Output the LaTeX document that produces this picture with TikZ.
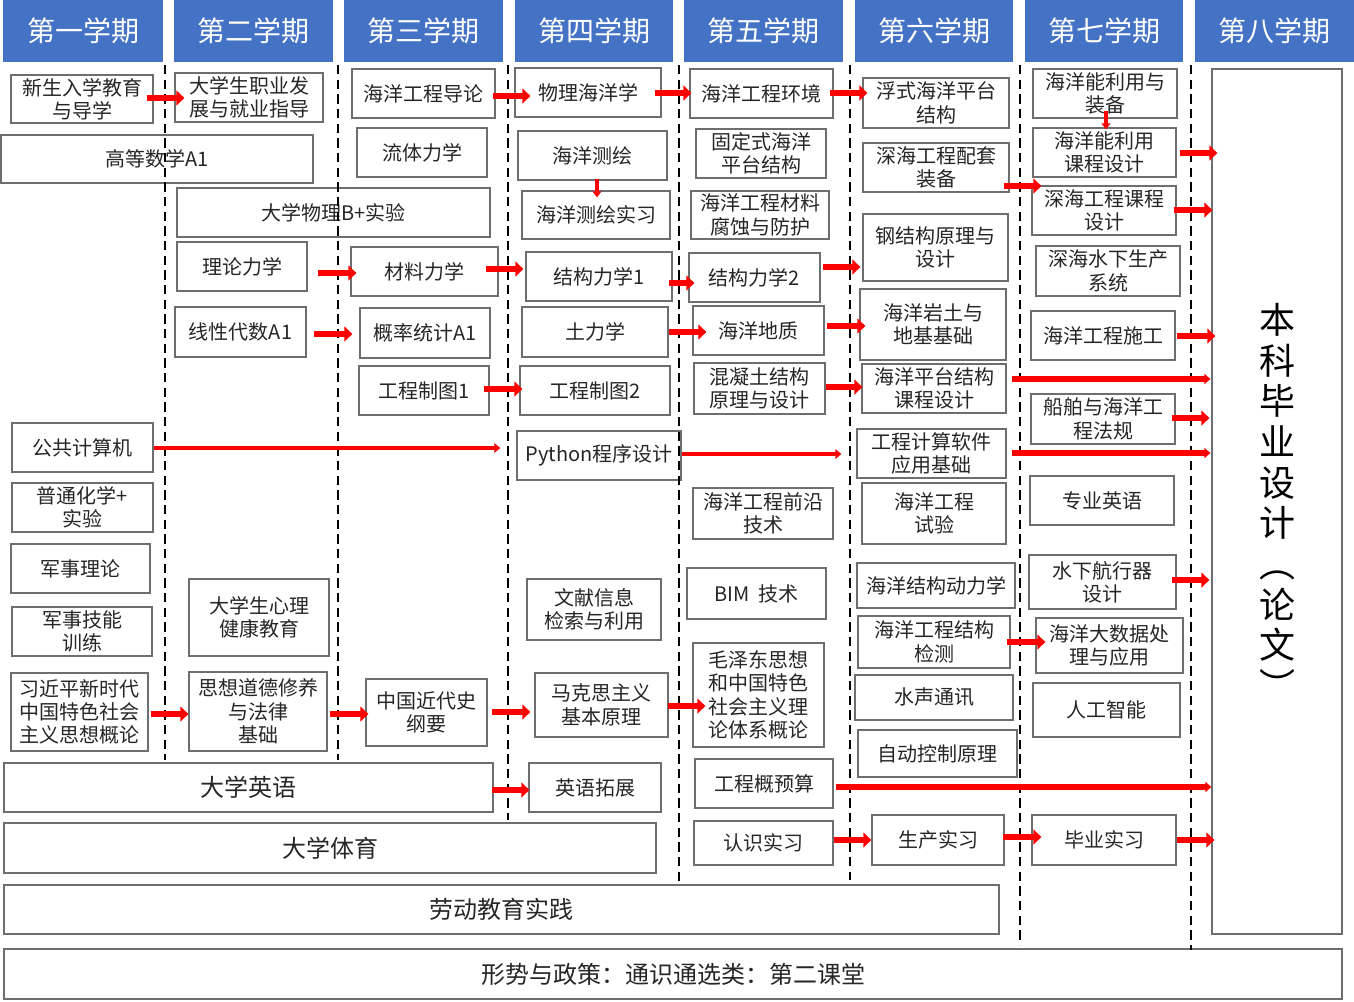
\documentclass[tikz,border=0pt]{standalone}
\usepackage{fontspec}
\setmainfont{Noto Sans CJK SC}
\usetikzlibrary{arrows.meta}
\definecolor{hdrblue}{HTML}{4472C4}
\definecolor{boxgray}{HTML}{6E6E6E}
\definecolor{txt}{HTML}{262626}
\definecolor{arred}{HTML}{FF0000}
\newcommand{\mybox}[7][]{%
  \pgfmathsetmacro\mbw{(#5-#3)*0.75}%
  \pgfmathsetmacro\mbh{(#6-#4)*0.75}%
  \node[box,minimum width=\mbw pt,minimum height=\mbh pt,#1] (#2) at ({(#3+#5)/2},{(#4+#6)/2}) {#7};}
\begin{document}
\begin{tikzpicture}[x=0.75pt,y=-0.75pt,
  box/.style={draw=boxgray,line width=0.9pt,fill=white,inner sep=0pt,align=center,text=txt,font=\fontsize{15}{17.5}\selectfont},
  hdr/.style={draw=none,fill=hdrblue,text=white,font=\fontsize{21}{25}\selectfont},
  big/.style={font=\fontsize{18}{22}\selectfont},
  sep/.style={draw=black,line width=2pt,dash pattern=on 7pt off 4pt},
  arr/.style={draw=arred,line width=5.2pt,-{Triangle[length=6pt,width=11pt]}},
  arrmed/.style={draw=arred,line width=4pt,-{Triangle[length=4.5pt,width=7.5pt]}},
  arrthin/.style={draw=arred,line width=3pt,-{Triangle[length=4.5pt,width=7pt]}},
  arrv/.style={draw=arred,line width=2.4pt,-{Triangle[length=4.5pt,width=6.5pt]}}]
\useasboundingbox (0,0) rectangle (1354,1001);
\fill[white] (0,0) rectangle (1354,1001);
% headers
\mybox[hdr]{h1}{3}{0}{163}{62}{第一学期}
\mybox[hdr]{h2}{174}{0}{333}{62}{第二学期}
\mybox[hdr]{h3}{344}{0}{503}{62}{第三学期}
\mybox[hdr]{h4}{515}{0}{673}{62}{第四学期}
\mybox[hdr]{h5}{684}{0}{843}{62}{第五学期}
\mybox[hdr]{h6}{855}{0}{1013}{62}{第六学期}
\mybox[hdr]{h7}{1025}{0}{1183}{62}{第七学期}
\mybox[hdr]{h8}{1195}{0}{1354}{62}{第八学期}
% column 1
\mybox{a1}{11}{75}{153}{123}{新生入学教育\\与导学}
\mybox{gs}{1}{135}{313}{183}{高等数学A1}
\mybox{gg}{12}{423}{153}{472}{公共计算机}
\mybox{hx}{12}{483}{153}{532}{普通化学+\\实验}
\mybox{jl}{11}{544}{150}{593}{军事理论}
\mybox{jn}{12}{607}{152}{656}{军事技能\\训练}
\mybox{xj}{11}{673}{148}{751}{习近平新时代\\中国特色社会\\主义思想概论}
\mybox[big]{yy}{4}{763}{493}{812}{大学英语}
\mybox[big]{ty}{4}{823}{656}{873}{大学体育}
\mybox[big]{ld}{4}{885}{999}{934}{劳动教育实践}
\mybox[big]{xs}{4}{949}{1342}{999}{形势与政策：通识通选类：第二课堂}
% column 2
\mybox{zy}{175}{73}{323}{122}{大学生职业发\\展与就业指导}
\mybox{wl}{177}{188}{490}{237}{大学物理B+实验}
\mybox{ll}{177}{242}{307}{291}{理论力学}
\mybox{xd}{175}{307}{306}{357}{线性代数A1}
\mybox{xl}{189}{579}{329}{656}{大学生心理\\健康教育}
\mybox{sx}{189}{672}{327}{751}{思想道德修养\\与法律\\基础}
% column 3
\mybox{dl}{352}{69}{495}{118}{海洋工程导论}
\mybox{lt}{357}{128}{487}{177}{流体力学}
\mybox{cl}{351}{247}{498}{296}{材料力学}
\mybox{gl}{360}{308}{490}{358}{概率统计A1}
\mybox{zta}{359}{366}{489}{415}{工程制图1}
\mybox{jd}{366}{679}{487}{746}{中国近代史\\纲要}
% column 4
\mybox{wh}{515}{68}{661}{117}{物理海洋学}
\mybox{ch}{518}{131}{667}{180}{海洋测绘}
\mybox{cs}{522}{191}{670}{239}{海洋测绘实习}
\mybox{jga}{526}{252}{672}{301}{结构力学1}
\mybox{tl}{522}{307}{668}{357}{土力学}
\mybox{ztb}{520}{366}{670}{415}{工程制图2}
\mybox{py}{517}{431}{681}{480}{Python程序设计}
\mybox{wx}{527}{579}{661}{640}{文献信息\\检索与利用}
\mybox{mk}{535}{673}{668}{737}{马克思主义\\基本原理}
\mybox{yt}{529}{763}{661}{812}{英语拓展}
% column 5
\mybox{hj}{690}{69}{833}{118}{海洋工程环境}
\mybox{gd}{696}{129}{826}{178}{固定式海洋\\平台结构}
\mybox{cf}{691}{191}{829}{239}{海洋工程材料\\腐蚀与防护}
\mybox{jgb}{689}{253}{820}{302}{结构力学2}
\mybox{dz}{693}{306}{824}{355}{海洋地质}
\mybox{hn}{694}{363}{825}{414}{混凝土结构\\原理与设计}
\mybox{qy}{693}{488}{833}{539}{海洋工程前沿\\技术}
\mybox{bim}{687}{568}{826}{619}{BIM\ \ 技术}
\mybox{mz}{693}{643}{824}{747}{毛泽东思想\\和中国特色\\社会主义理\\论体系概论}
\mybox{gy}{695}{759}{833}{808}{工程概预算}
\mybox{rs}{694}{821}{833}{865}{认识实习}
% column 6
\mybox{fs}{863}{78}{1009}{128}{浮式海洋平台\\结构}
\mybox{pt}{863}{143}{1009}{192}{深海工程配套\\装备}
\mybox{gj}{863}{214}{1008}{281}{钢结构原理与\\设计}
\mybox{ytu}{860}{289}{1006}{360}{海洋岩土与\\地基基础}
\mybox{pk}{862}{364}{1006}{413}{海洋平台结构\\课程设计}
\mybox{js}{857}{429}{1006}{478}{工程计算软件\\应用基础}
\mybox{sy}{862}{483}{1006}{544}{海洋工程\\试验}
\mybox{dlx}{857}{563}{1015}{608}{海洋结构动力学}
\mybox{jc}{858}{616}{1010}{668}{海洋工程结构\\检测}
\mybox{sh}{855}{675}{1013}{720}{水声通讯}
\mybox{zk}{858}{730}{1017}{777}{自动控制原理}
\mybox{sc}{872}{815}{1004}{865}{生产实习}
% column 7
\mybox{nz}{1033}{69}{1177}{118}{海洋能利用与\\装备}
\mybox{nk}{1033}{128}{1176}{177}{海洋能利用\\课程设计}
\mybox{sk}{1032}{186}{1176}{235}{深海工程课程\\设计}
\mybox{ss}{1036}{246}{1180}{296}{深海水下生产\\系统}
\mybox{sg}{1031}{311}{1175}{360}{海洋工程施工}
\mybox{fg}{1031}{394}{1175}{444}{船舶与海洋工\\程法规}
\mybox{zyy}{1030}{476}{1174}{525}{专业英语}
\mybox{hxq}{1029}{555}{1176}{609}{水下航行器\\设计}
\mybox{ds}{1036}{618}{1183}{673}{海洋大数据处\\理与应用}
\mybox{rg}{1033}{683}{1180}{737}{人工智能}
\mybox{by}{1032}{815}{1176}{865}{毕业实习}
% column 8
\mybox[font=\fontsize{27}{30.5}\selectfont,text=black]{bk}{1212}{69}{1342}{934}{本\\科\\毕\\业\\设\\计\\︵\\论\\文\\︶}
% semester separators
\draw[sep] (165,65) -- (165,760);
\draw[sep] (338,65) -- (338,760);
\draw[sep] (508,65) -- (508,820);
\draw[sep] (679,65) -- (679,885);
\draw[sep] (850,65) -- (850,880);
\draw[sep] (1020,65) -- (1020,945);
\draw[sep] (1191,65) -- (1191,950);
% connectors
\draw[arr] ([shift={(-7,-1)}]a1.east) -- ([shift={(10,0.5)}]zy.west);
\draw[arr] ([shift={(10,6.5)}]ll.east) -- ([shift={(6,1.5)}]cl.west);
\draw[arr] ([shift={(7,2)}]xd.east) -- ([shift={(-7,1)}]gl.west);
\draw[arr] ([shift={(-3,2.5)}]dl.east) -- ([shift={(16,3.5)}]wh.west);
\draw[arr] ([shift={(-7,0.5)}]wh.east) -- ([shift={(2,-0.5)}]hj.west);
\draw[arr] ([shift={(-4,-0.5)}]hj.east) -- ([shift={(5,-10)}]fs.west);
\draw[arr] ([shift={(-13,-2.5)}]cl.east) -- ([shift={(-2,-7.5)}]jga.west);
\draw[arr] ([shift={(-4,6.5)}]jga.east) -- ([shift={(6,5.5)}]jgb.west);
\draw[arr] ([shift={(2,-10.5)}]jgb.east) -- ([shift={(-2,19.5)}]gj.west);
\draw[arr] ([shift={(0,0)}]tl.east) -- ([shift={(14,1.5)}]dz.west);
\draw[arr] ([shift={(2,-4.5)}]dz.east) -- ([shift={(6,1.5)}]ytu.west);
\draw[arr] ([shift={(-6,-1.5)}]zta.east) -- ([shift={(3,-1.5)}]ztb.west);
\draw[arr] ([shift={(0,-1.5)}]hn.east) -- ([shift={(1,-1.5)}]pk.west);
\draw[arrthin] ([shift={(0,0.5)}]gg.east) -- ([shift={(-16,-7.5)}]py.west);
\draw[arrthin] ([shift={(0,-1.5)}]py.east) -- ([shift={(-15,0.5)}]js.west);
\draw[arrv] ([shift={(4.5,-2)}]ch.south) -- ([shift={(1,7)}]cs.north);
\draw[arrv] ([shift={(1,-8)}]nz.south) -- ([shift={(1.5,2)}]nk.north);
\draw[arr] ([shift={(-6,18.5)}]pt.east) -- ([shift={(10,-24.5)}]sk.west);
\draw[arr] ([shift={(3,0.5)}]nk.east) -- ([shift={(6,-348.5)}]bk.west);
\draw[arr] ([shift={(-3,-0.5)}]sk.east) -- ([shift={(1,-291.5)}]bk.west);
\draw[arr] ([shift={(1,0.5)}]sg.east) -- ([shift={(4,-165.5)}]bk.west);
\draw[arrmed] ([shift={(5,-9.5)}]pk.east) -- ([shift={(-1,-122.5)}]bk.west);
\draw[arr] ([shift={(-4,-1)}]fg.east) -- ([shift={(-2,-83.5)}]bk.west);
\draw[arrmed] ([shift={(5,-0.5)}]js.east) -- ([shift={(-1,-48.5)}]bk.west);
\draw[arr] ([shift={(-5,-2)}]hxq.east) -- ([shift={(-2,78.5)}]bk.west);
\draw[arr] ([shift={(-4,0)}]jc.east) -- ([shift={(10,-3.5)}]ds.west);
\draw[arrmed] ([shift={(2,3.5)}]gy.east) -- ([shift={(0,285.5)}]bk.west);
\draw[arr] ([shift={(0,-3)}]rs.east) -- ([shift={(0,0)}]sc.west);
\draw[arr] ([shift={(-2,-3)}]sc.east) -- ([shift={(10,-3)}]by.west);
\draw[arr] ([shift={(0,0)}]by.east) -- ([shift={(3,338.5)}]bk.west);
\draw[arr] ([shift={(2,2)}]xj.east) -- ([shift={(0,2.5)}]sx.west);
\draw[arr] ([shift={(2,2.5)}]sx.east) -- ([shift={(3,1.5)}]jd.west);
\draw[arr] ([shift={(4,-0.5)}]jd.east) -- ([shift={(-4,7)}]mk.west);
\draw[arr] ([shift={(-1,1)}]mk.east) -- ([shift={(13,11)}]mz.west);
\draw[arr] ([shift={(-2,2.5)}]yy.east) -- ([shift={(1,2.5)}]yt.west);
\end{tikzpicture}
\end{document}
